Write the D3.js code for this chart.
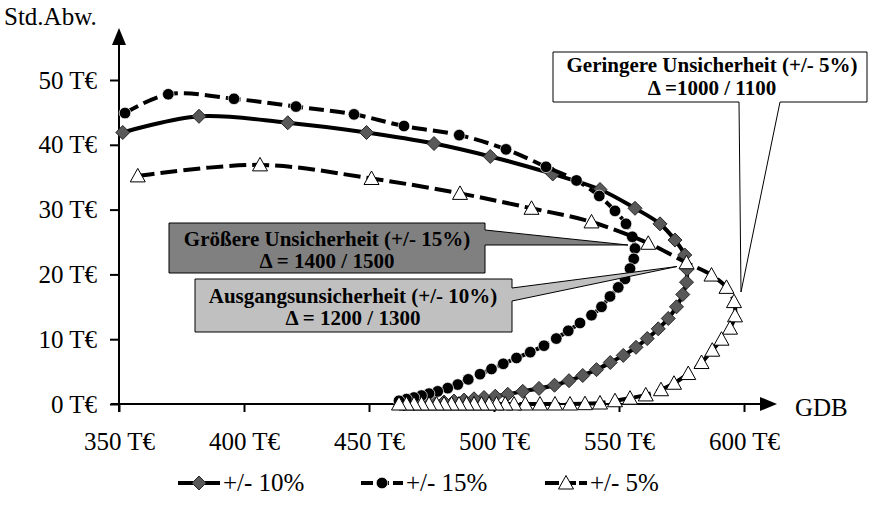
<!DOCTYPE html>
<html>
<head>
<meta charset="utf-8">
<script src="https://cdn.jsdelivr.net/npm/d3@7"></script>
<style>
  body { margin: 0; background: #fff; }
  svg { display: block; }
  text { font-family: "Liberation Serif", "Times New Roman", serif; fill: #000; }
</style>
</head>
<body>
<svg id="chart" width="869" height="505"></svg>
<script>
// Mean profit (GDB, T€) and standard deviation (T€) per scenario run
const gdb10 = [351.5, 382, 417.5, 449, 476, 498.5, 523.5, 542.4, 556.4, 566.4, 572.4, 576.3, 577.2, 577, 575.5, 573, 569.7, 565.7, 561.3, 556.8, 551.7, 546.5, 541, 535.5, 530, 524.2, 518, 511.5, 505.5, 500.5, 496, 492, 488, 484, 480, 476, 472, 468, 464];
const std10 = [41.9, 44.4, 43.4, 41.9, 40.2, 38.2, 35.5, 33.1, 30.2, 27.8, 25.3, 23.0, 20.8, 18.8, 16.9, 15.0, 13.2, 11.6, 10.1, 8.75, 7.5, 6.4, 5.3, 4.4, 3.6, 2.9, 2.4, 1.95, 1.5, 1.2, 1.0, 0.8, 0.6, 0.45, 0.3, 0.2, 0.1, 0.05, 0];

const gdb15 = [352.4, 369.7, 396, 420.8, 444, 464, 486.1, 504.8, 520.8, 533, 542.1, 548.4, 552.8, 555.3, 556.4, 555.9, 554.4, 552.4, 549.7, 546.4, 543, 539, 534.4, 529.7, 524.9, 520, 514.5, 509, 503.7, 499, 494.4, 489.7, 485.5, 481.5, 477.5, 474, 471, 468, 465, 462];
const std15 = [44.9, 47.8, 47.1, 45.9, 44.7, 42.9, 41.5, 39.3, 36.6, 34.5, 32.1, 29.8, 27.8, 25.8, 24.0, 22.4, 20.9, 19.3, 18.0, 16.6, 15.0, 13.7, 12.5, 11.3, 10.1, 9.0, 8.0, 7.1, 6.2, 5.4, 4.6, 3.8, 3.0, 2.45, 1.95, 1.6, 1.3, 1.0, 0.75, 0.5];

const gdb5 = [357.5, 406.4, 451, 486.4, 515, 539, 561.7, 577, 587, 593, 596, 596.4, 594.4, 591, 587.3, 583, 577.7, 572, 566.8, 560.7, 554.4, 548.4, 542.4, 536.4, 530.4, 524.4, 518.4, 512.5, 508, 504.5, 501, 498, 495, 492, 489, 486, 483, 480, 477, 474, 471, 468, 465, 462];
const std5 = [35.2, 36.9, 34.8, 32.5, 30.2, 28.1, 24.8, 21.8, 19.9, 18.0, 15.8, 13.6, 11.7, 10.0, 8.3, 6.4, 4.7, 3.2, 2.2, 1.4, 0.9, 0.5, 0.15, 0.05, 0, 0, 0, 0, 0, 0, 0, 0, 0, 0, 0, 0, 0, 0, 0, 0, 0, 0, 0, 0];

const seriesNames = ["+/- 10%", "+/- 15%", "+/- 5%"];
const xTicks = [350, 400, 450, 500, 550, 600];
const yTicks = [0, 10, 20, 30, 40, 50];
const xTitle = "GDB";
const yTitle = "Std.Abw.";
const calloutText = [
  ["Größere Unsicherheit (+/- 15%)", "Δ = 1400 / 1500"],
  ["Ausgangsunsicherheit (+/- 10%)", "Δ = 1200 / 1300"],
  ["Geringere Unsicherheit (+/- 5%)", "Δ =1000 / 1100"]
];

const svg = d3.select("#chart");
const x = d3.scaleLinear().domain([350, 600]).range([119, 744]);
const y = d3.scaleLinear().domain([0, 50]).range([404, 80]);

// Axes
const yAxis = d3.axisLeft(y).tickValues(yTicks).tickSize(9).tickPadding(13).tickFormat(d => d + " T€");
const gy = svg.append("g").attr("transform", `translate(${x(350)},0)`).call(yAxis);
gy.select(".domain").remove();
gy.selectAll(".tick line").attr("stroke", "#000").attr("stroke-width", 2);
gy.selectAll(".tick text").attr("font-size", 25).attr("font-family", "Liberation Serif").attr("fill", "#000");

const xAxis = d3.axisBottom(x).tickValues(xTicks).tickSize(8).tickPadding(20).tickFormat(d => d + " T€");
const gx = svg.append("g").attr("transform", `translate(0,${y(0)})`).call(xAxis);
gx.select(".domain").remove();
gx.selectAll(".tick line").attr("stroke", "#000").attr("stroke-width", 2);
gx.selectAll(".tick text").attr("font-size", 25).attr("font-family", "Liberation Serif").attr("fill", "#000");

// Axis lines with arrow heads
const x0 = x(350), y0 = y(0);
svg.append("line").attr("x1", x0).attr("x2", x0).attr("y1", y0 + 8).attr("y2", 40)
  .attr("stroke", "#000").attr("stroke-width", 2);
svg.append("path").attr("d", `M${x0},28 L${x0 + 7},45 L${x0 - 7},45 Z`).attr("fill", "#000");
svg.append("line").attr("x1", x0 - 8).attr("x2", 765).attr("y1", y0).attr("y2", y0)
  .attr("stroke", "#000").attr("stroke-width", 2);
svg.append("path").attr("d", `M777,${y0} L760,${y0 - 7} L760,${y0 + 7} Z`).attr("fill", "#000");

svg.append("text").attr("x", 4).attr("y", 25).attr("font-size", 25).text(yTitle);
svg.append("text").attr("x", 795).attr("y", y0 + 12).attr("font-size", 25).text(xTitle);

// Marker shapes
const diamond = "M0,-7L7,0L0,7L-7,0Z";
const triangle = "M0,-7.5L7.5,6L-7.5,6Z";

const series = [
  { name: seriesNames[0], gdb: gdb10, std: std10, dash: null, marker: "diamond" },
  { name: seriesNames[1], gdb: gdb15, std: std15, dash: "15,6", marker: "circle" },
  { name: seriesNames[2], gdb: gdb5, std: std5, dash: "17,6", marker: "triangle" }
];

const line = d3.line().x(d => x(d[0])).y(d => y(d[1])).curve(d3.curveCatmullRom.alpha(0.5));

function drawMarker(g, m) {
  if (m === "diamond") {
    g.append("path").attr("d", diamond).attr("fill", "#595959").attr("stroke", "#262626").attr("stroke-width", 1);
  } else if (m === "circle") {
    g.append("circle").attr("r", 5.8).attr("fill", "#000").attr("stroke", "#fff").attr("stroke-width", 0.7);
  } else {
    g.append("path").attr("d", triangle).attr("fill", "#fff").attr("stroke", "#000").attr("stroke-width", 1);
  }
}

series.forEach(s => {
  const pts = s.gdb.map((g, i) => [g, s.std[i]]);
  const p = svg.append("path").attr("d", line(pts)).attr("fill", "none")
    .attr("stroke", "#000").attr("stroke-width", 4);
  if (s.dash) p.attr("stroke-dasharray", s.dash);
  pts.forEach(d => {
    const g = svg.append("g").attr("transform", `translate(${x(d[0])},${y(d[1])})`);
    drawMarker(g, s.marker);
  });
});

// Callouts
const callouts = [
  { path: "M169,223 H485 V230 L628,245 L485,245 V273 H169 Z", fill: "#808080", cx: 327, base: [246, 268] },
  { path: "M195,279 H512 V288 L677,266.5 L512,301 V332 H195 Z", fill: "#c0c0c0", cx: 353, base: [303, 325] },
  { path: "M553,52 H867 V102 H780 L741,292 L739,102 H553 Z", fill: "#ffffff", cx: 712, base: [72, 95] }
];
callouts.forEach((c, i) => {
  svg.append("path").attr("d", c.path).attr("fill", c.fill).attr("stroke", "#000").attr("stroke-width", 1);
  calloutText[i].forEach((t, j) => {
    svg.append("text").attr("x", c.cx).attr("y", c.base[j]).attr("text-anchor", "middle")
      .attr("font-size", 21).attr("font-weight", "bold").text(t);
  });
});

// Legend
const legendX = [178, 361, 545];
const ly = 483;
series.forEach((s, i) => {
  const lx = legendX[i];
  const l = svg.append("line").attr("x1", lx).attr("x2", lx + 42).attr("y1", ly).attr("y2", ly)
    .attr("stroke", "#000").attr("stroke-width", 4);
  if (s.dash) l.attr("stroke-dasharray", i === 1 ? "12,4" : "14,3");
  const g = svg.append("g").attr("transform", `translate(${lx + 21},${ly})`);
  drawMarker(g, s.marker);
  svg.append("text").attr("x", lx + 45).attr("y", ly + 8).attr("font-size", 25).text(s.name);
});
</script>
</body>
</html>
